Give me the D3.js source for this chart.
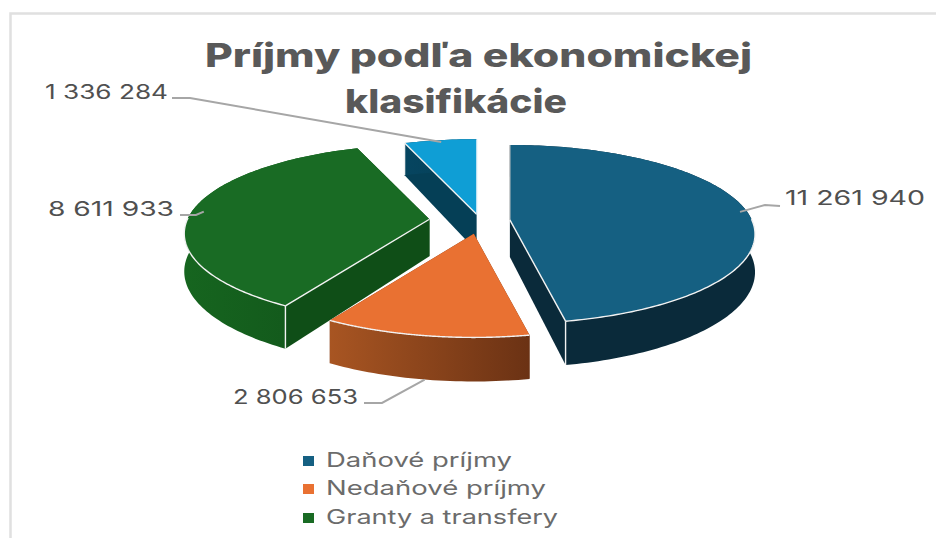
<!DOCTYPE html>
<html>
<head>
<meta charset="utf-8">
<script src="https://cdnjs.cloudflare.com/ajax/libs/d3/7.8.5/d3.min.js"></script>
<style>
    html, body { margin: 0; padding: 0; background: #fff; }
    svg { display: block; }
    text { font-family: Inter, "Liberation Sans", sans-serif; }
</style>
</head>
<body>
<svg id="chart" width="936" height="538"></svg>
<script>
// data
var categories = ["Daňové príjmy", "Nedaňové príjmy", "Granty a transfery"];
var values = [11261940, 2806653, 8611933, 1336284];
var value_labels = ["11 261 940", "2 806 653", "8 611 933", "1 336 284"];
var title_lines = ["Príjmy podľa ekonomickej", "klasifikácie"];

// layout
var width = 936, height = 538;
var cx = 480, cy = 221;
var rx = 242, ry = 87;
var tilt = 0.16;
var depth = 37;
var explode = [0.124, 0.15, 0.21, 0.08];
var top_colors = ["#156082", "#e97132", "#196b24", "#0f9ed5"];
var side_colors = ["#0a2a3a", "#6b3214", "#0f4e17", "#053f56"];
var wall_colors = [["#0a2a3a", "#0a2a3a"], ["#a85522", "#6b3214"], ["#16651f", "#11531a"], ["#064560", "#053f56"]];
var draw_order = [3, 2, 0, 1];
var label_pos = [[785, 205, 140], [233, 404, 125], [48, 216, 126], [45, 99, 123]];
var leader_pos = [[[780, 206], [765, 205]], [[364, 403], [382, 403]], [[180, 215], [196, 215]], [[172, 98], [190, 98]]];
var leader_r = [0.97, 1, 0.95, 0.97];
var legend_pos = [[467, 186], [495, 220], [524, 232]];

var svg = d3.select("#chart");
var defs = svg.append("defs");

// frame, only the top and left edges fall inside the crop
svg.append("path")
    .attr("d", "M10.5,538V13.5H936")
    .attr("fill", "none")
    .attr("stroke", "#e0e0e0")
    .attr("stroke-width", 2.5);

var arcs = d3.pie().sort(null)(values);

// point on the disc of slice i, pushed out on screen along the slice's middle
function slicePoint(i, r, a, z) {
    var mid = (arcs[i].startAngle + arcs[i].endAngle) / 2;
    var v = r * Math.cos(a);
    var w = 1 + tilt * v;
    return [
        cx + rx * (explode[i] * Math.sin(mid) + r * Math.sin(a) / w),
        cy - ry * (explode[i] * Math.cos(mid) + v / w) + z * depth / w
    ];
}

function arcSamples(i, a0, a1, z) {
    var n = Math.max(2, Math.ceil(Math.abs(a1 - a0) / 0.02));
    return d3.range(n + 1).map(function (k) {
        return slicePoint(i, 1, a0 + (a1 - a0) * k / n, z);
    });
}

var line = d3.line();
var wall_group = svg.append("g");

draw_order.forEach(function (i) {
    var a0 = arcs[i].startAngle, a1 = arcs[i].endAngle;
    var g = wall_group.append("g").attr("class", "slice");
    var apex = slicePoint(i, 0, 0, 0), apex_low = slicePoint(i, 0, 0, 1);
    var start_top = slicePoint(i, 1, a0, 0), start_low = slicePoint(i, 1, a0, 1);
    var end_top = slicePoint(i, 1, a1, 0), end_low = slicePoint(i, 1, a1, 1);

    // flat sides of the wedge
    g.append("path")
        .attr("d", line([apex, start_top, start_low, apex_low]) + "Z")
        .attr("fill", side_colors[i]);
    g.append("path")
        .attr("d", line([apex, end_top, end_low, apex_low]) + "Z")
        .attr("fill", side_colors[i]);

    // outer wall, gradient runs left to right on screen
    var top_edge = arcSamples(i, a0, a1, 0);
    var low_edge = arcSamples(i, a1, a0, 1);
    var xs = d3.extent(top_edge, function (p) { return p[0]; });
    var grad = defs.append("linearGradient")
        .attr("id", "wall" + i)
        .attr("gradientUnits", "userSpaceOnUse")
        .attr("x1", xs[0]).attr("x2", xs[1]).attr("y1", 0).attr("y2", 0);
    grad.append("stop").attr("offset", 0).attr("stop-color", wall_colors[i][0]);
    grad.append("stop").attr("offset", 1).attr("stop-color", wall_colors[i][1]);
    g.append("path")
        .attr("d", line(top_edge.concat(low_edge)) + "Z")
        .attr("fill", "url(#wall" + i + ")");

    // top face
    g.append("path")
        .attr("d", line([apex].concat(top_edge)) + "Z")
        .attr("fill", top_colors[i]);

    // thin white bevel on the edges that face the viewer
    var bevel = [];
    if (Math.sin(a0) < -0.001) {
        bevel.push([apex, start_top]);
        bevel.push([start_top, start_low]);
    }
    if (Math.sin(a1) > 0.001) {
        bevel.push([apex, end_top]);
        bevel.push([end_top, end_low]);
    }
    var front = [];
    var n = 200;
    for (var k = 0; k <= n; k++) {
        var a = a0 + (a1 - a0) * k / n;
        if (Math.cos(a) < 0.02) {
            front.push(slicePoint(i, 1, a, 0));
        }
    }
    if (front.length > 1) {
        bevel.push(front);
    }
    bevel.forEach(function (pts) {
        g.append("path")
            .attr("d", line(pts))
            .attr("fill", "none")
            .attr("stroke", "#f2f2f2")
            .attr("stroke-width", 1.4);
    });

    // the vertical seam at twelve o'clock only catches a faint highlight
    if (Math.abs(Math.sin(a0)) <= 0.001) {
        g.append("path")
            .attr("d", line([apex, start_top]))
            .attr("fill", "none")
            .attr("stroke", "#c4c4c4")
            .attr("stroke-width", 1.2);
    }
    if (Math.abs(Math.sin(a1)) <= 0.001) {
        g.append("path")
            .attr("d", line([apex, end_top]))
            .attr("fill", "none")
            .attr("stroke", "#bfe3f3")
            .attr("stroke-width", 1.2);
    }
});

// leader lines start from the middle of each slice
arcs.forEach(function (d, i) {
    var mid = (d.startAngle + d.endAngle) / 2;
    var anchor = slicePoint(i, leader_r[i], mid, Math.cos(mid) < -0.5 ? 1 : 0);
    svg.append("path")
        .attr("d", line(leader_pos[i].concat([anchor])))
        .attr("fill", "none")
        .attr("stroke", "#a6a6a6")
        .attr("stroke-width", 2);
    svg.append("text")
        .attr("x", label_pos[i][0])
        .attr("y", label_pos[i][1])
        .attr("textLength", label_pos[i][2])
        .attr("lengthAdjust", "spacingAndGlyphs")
        .attr("font-size", 20)
        .attr("fill", "#505050")
        .text(value_labels[i]);
});

svg.append("text")
    .attr("x", 205).attr("y", 67)
    .attr("textLength", 547)
    .attr("lengthAdjust", "spacingAndGlyphs")
    .attr("font-size", 33)
    .attr("font-weight", 800)
    .attr("fill", "#595959")
    .text(title_lines[0]);
svg.append("text")
    .attr("x", 345).attr("y", 113)
    .attr("textLength", 222)
    .attr("lengthAdjust", "spacingAndGlyphs")
    .attr("font-size", 33)
    .attr("font-weight", 800)
    .attr("fill", "#595959")
    .text(title_lines[1]);

var legend = svg.append("g").selectAll("g")
    .data(categories)
    .enter()
    .append("g");
legend.append("rect")
    .attr("x", 303)
    .attr("y", function (d, i) { return legend_pos[i][0] - 11; })
    .attr("width", 11)
    .attr("height", 10)
    .attr("fill", function (d, i) { return top_colors[i]; });
legend.append("text")
    .attr("x", 326)
    .attr("y", function (d, i) { return legend_pos[i][0]; })
    .attr("textLength", function (d, i) { return legend_pos[i][1]; })
    .attr("lengthAdjust", "spacingAndGlyphs")
    .attr("font-size", 20)
    .attr("fill", "#6b6b6b")
    .text(function (d) { return d; });
</script>
</body>
</html>
